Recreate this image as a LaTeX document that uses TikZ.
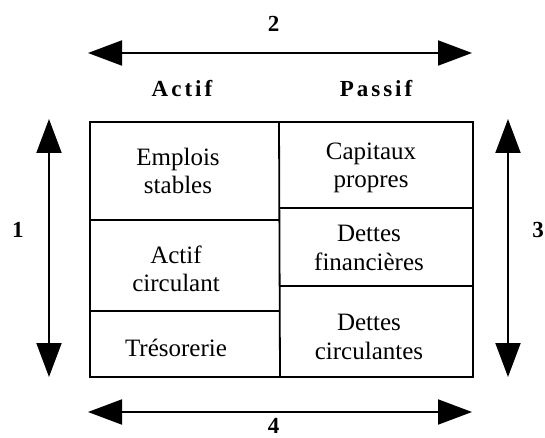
\documentclass[tikz,border=0pt]{standalone}
\usepackage{fontspec}
\setmainfont{Liberation Serif}
\usetikzlibrary{arrows.meta}
\begin{document}
\begin{tikzpicture}[x=1pt,y=-1pt,
  cellline/.style={line width=1.8pt},
  dblarrow/.style={line width=2pt,{Triangle[length=34pt,width=25pt]}-{Triangle[length=34pt,width=25pt]}},
  celltext/.style={align=center,font=\fontsize{25}{28.5}\selectfont,inner sep=0pt},
  numlabel/.style={font=\fontsize{23}{26}\selectfont\bfseries,inner sep=0pt},
  headlabel/.style={font=\fontsize{23}{26}\selectfont\bfseries,inner sep=0pt,anchor=base}]
\useasboundingbox (0,0) rectangle (545,438);
% table corners
\coordinate (tl) at (90,122);
\coordinate (br) at (473,377);
\coordinate (mt) at (279,122);
\coordinate (mb) at (280,377);
\coordinate (l1a) at (90,220);  \coordinate (l1b) at (280,220);
\coordinate (l2a) at (90,311);  \coordinate (l2b) at (280,311);
\coordinate (r1a) at (280,208); \coordinate (r1b) at (473,208);
\coordinate (r2a) at (280,286); \coordinate (r2b) at (473,286);
\draw[cellline] (tl) rectangle (br);
\draw[cellline] (mt) -- (mb);
\draw[cellline] (l1a) -- (l1b);
\draw[cellline] (l2a) -- (l2b);
\draw[cellline] (r1a) -- (r1b);
\draw[cellline] (r2a) -- (r2b);
% cell texts
\node[celltext] (es) at (178,171) {Emplois\\stables};
\node[celltext] (ac) at (176,269) {Actif\\circulant};
\node[celltext] (tr) at (176,348) {Trésorerie};
\node[celltext] (cp) at (371,168) {Capitaux\\propres};
\node[celltext] (df) at (369,248) {Dettes\\financières};
\node[celltext] (dc) at (369,337) {Dettes\\circulantes};
% headers
\node[headlabel] (actif) at (182,97) {A\kern3pt c\kern3pt t\kern3pt i\kern3pt f};
\node[headlabel] (passif) at (376,97) {P\kern3pt a\kern3pt s\kern3pt s\kern3pt i\kern3pt f};
% arrows
\coordinate (a2l) at (88,53);  \coordinate (a2r) at (472,53);
\coordinate (a4l) at (88,412); \coordinate (a4r) at (472,412);
\coordinate (a1t) at (49,119); \coordinate (a1b) at (49,377);
\coordinate (a3t) at (508,119); \coordinate (a3b) at (508,377);
\draw[dblarrow] (a2l) -- (a2r);
\draw[dblarrow] (a4l) -- (a4r);
\draw[dblarrow] (a1t) -- (a1b);
\draw[dblarrow] (a3t) -- (a3b);
% numbers
\node[numlabel] (n2) at (273.5,24) {2};
\node[numlabel,anchor=base] (n4) at (273.5,433) {4};
\node[numlabel] (n1) at (18,230) {1};
\node[numlabel] (n3) at (538,230) {3};
\end{tikzpicture}
\end{document}
